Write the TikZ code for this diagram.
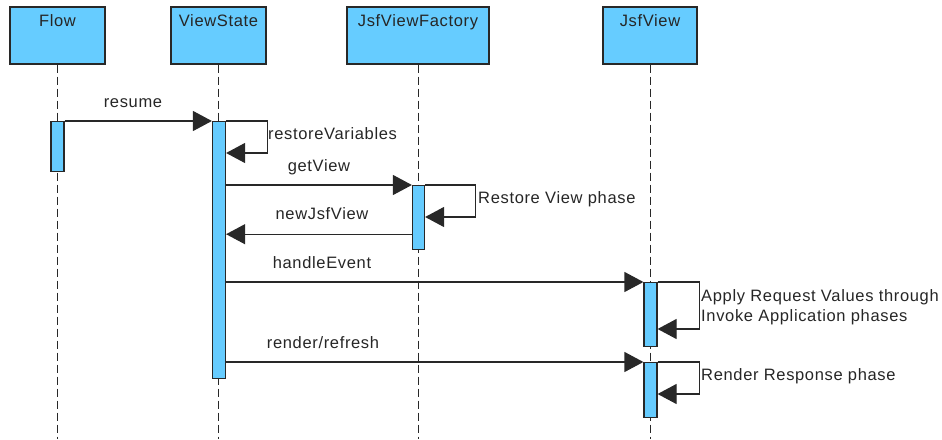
\documentclass[tikz,border=0pt]{standalone}
\usepackage{fontspec}
\setmainfont[LetterSpace=4]{Liberation Sans}
\usetikzlibrary{arrows.meta}
\definecolor{boxblue}{RGB}{102,204,255}
\definecolor{edge}{RGB}{40,40,40}
\begin{document}
\begin{tikzpicture}[x=1pt,y=-1pt,
  every node/.style={font=\fontsize{16.5}{20}\selectfont},
  head/.style={draw=edge, fill=boxblue, line width=1.3pt, minimum height=57pt, inner sep=0pt},
  bar/.style={draw=edge, fill=boxblue, line width=1.2pt, minimum width=13pt, inner sep=0pt, anchor=north},
  life/.style={draw=edge, dash pattern=on 8pt off 4pt, line width=1pt},
  msg/.style={draw=edge, line width=1.2pt, -{Triangle[length=19pt,width=20pt]}},
  lbl/.style={anchor=base, inner sep=0pt, text=black!85},
  note/.style={anchor=base west, inner sep=0pt, text=black!85}]
\useasboundingbox (0,0) rectangle (942,439);
\coordinate (bot) at (0,439);
% heads
\node[head, minimum width=95pt] (flow) at (57.5,35.5) {};
\node[head, minimum width=95pt] (vs) at (218.5,35.5) {};
\node[head, minimum width=142pt] (jvf) at (418,35.5) {};
\node[head, minimum width=94pt] (jv) at (650,35.5) {};
\node[lbl] (flowt) at (57.5,27) {Flow};
\node[lbl] (vst) at (218.5,27) {ViewState};
\node[lbl] (jvft) at (418,27) {JsfViewFactory};
\node[lbl] (jvt) at (650,27) {JsfView};
% lifelines
\draw[life] (flow.south) -- (flow.south |- bot);
\draw[life] (vs.south) -- (vs.south |- bot);
\draw[life] (jvf.south) -- (jvf.south |- bot);
\draw[life] (jv.south) -- (jv.south |- bot);
% activation bars
\node[bar, minimum height=50pt] (fbar) at (57.5,121) {};
\node[bar, minimum height=257pt] (vbar) at (219,121) {};
\node[bar, minimum height=64pt, minimum width=12pt] (jfbar) at (418.5,185) {};
\node[bar, minimum height=64pt] (jbar1) at (650.5,282) {};
\node[bar, minimum height=55pt] (jbar2) at (650.5,362) {};
% messages
\draw[msg] (fbar.north east) -- (vbar.north west);
\node[lbl] (l1) at (133,107) {resume};
\draw[msg] (vbar.north east) -- ++(41,0) -- ++(0,32) -- ++(-41,0);
\node[note] (l2) at (268,139) {restoreVariables};
\draw[msg] (vbar.east |- jfbar.north) -- (jfbar.north west);
\node[lbl] (l3) at (319,171) {getView};
\draw[msg] (jfbar.north east) -- ++(50,0) -- ++(0,32) -- ++(-50,0);
\node[note] (l4) at (478,203) {Restore View phase};
\coordinate (nj) at ([yshift=16pt]jfbar.south west);
\draw[msg] (nj) -- (vbar.east |- nj);
\node[lbl] (l5) at (322,219) {newJsfView};
\draw[msg] (vbar.east |- jbar1.north) -- (jbar1.north west);
\node[lbl] (l6) at (322,268) {handleEvent};
\draw[msg] (jbar1.north east) -- ++(42,0) -- ++(0,47) -- ++(-42,0);
\node[note] (l7) at (701,301) {Apply Request Values through};
\node[note] (l8) at (701,321) {Invoke Application phases};
\draw[msg] (vbar.east |- jbar2.north) -- (jbar2.north west);
\node[lbl] (l9) at (323,348) {render/refresh};
\draw[msg] (jbar2.north east) -- ++(42,0) -- ++(0,32) -- ++(-42,0);
\node[note] (l10) at (701,380) {Render Response phase};
\end{tikzpicture}
\end{document}
